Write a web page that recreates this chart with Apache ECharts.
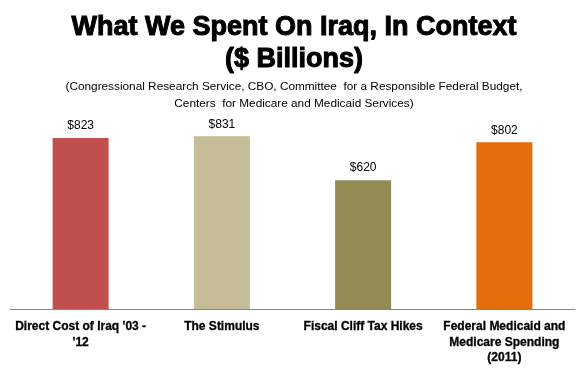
<!DOCTYPE html>
<html>
<head>
<meta charset="utf-8">
<script src="https://cdn.jsdelivr.net/npm/echarts@6/dist/echarts.min.js"></script>
<style>
html,body{margin:0;padding:0;background:#fff;}
#chart{width:588px;height:369px;}
</style>
</head>
<body>
<div id="chart"></div>
<script>
const categories = ["Direct Cost of Iraq '03 -\n'12", "The Stimulus", "Fiscal Cliff Tax Hikes", "Federal Medicaid and\nMedicare Spending\n(2011)"];
const values = [823, 831, 620, 802];
const barColors = ["#C0504D", "#C4BD97", "#948A54", "#E46C0A"];
const titleText = "What We Spent On Iraq, In Context\n($ Billions)";
const subtitleText = "(Congressional Research Service, CBO, Committee  for a Responsible Federal Budget,\nCenters  for Medicare and Medicaid Services)";

const chart = echarts.init(document.getElementById('chart'), null, {renderer: 'canvas'});
chart.setOption({
  backgroundColor: '#fff',
  animation: false,
  title: [{
    text: titleText,
    left: 'center',
    top: 7,
    textStyle: {
      fontFamily: 'Liberation Sans',
      fontWeight: 'bold',
      fontSize: 27,
      lineHeight: 32,
      color: '#000',
      textBorderColor: '#000',
      textBorderWidth: 1
    }
  }, {
    text: subtitleText,
    left: 'center',
    top: 73,
    textStyle: {
      fontFamily: 'Liberation Sans',
      fontWeight: 'normal',
      fontSize: 11.8,
      lineHeight: 17,
      color: '#000'
    }
  }],
  grid: {left: 10, right: 13, top: 122, bottom: 60, containLabel: false},
  xAxis: {
    type: 'category',
    data: categories,
    axisLine: {lineStyle: {color: '#868686', width: 1}},
    axisTick: {show: false},
    axisLabel: {
      interval: 0,
      margin: 10,
      fontFamily: 'Liberation Sans',
      fontWeight: 'bold',
      fontSize: 12,
      lineHeight: 15.5,
      color: '#000',
      textBorderColor: '#000',
      textBorderWidth: 0.3
    }
  },
  yAxis: {
    type: 'value',
    min: 0,
    max: 900,
    show: false,
    splitLine: {show: false}
  },
  series: [{
    type: 'bar',
    barWidth: 56,
    data: values.map((v, i) => ({value: v, itemStyle: {color: barColors[i]}})),
    label: {
      show: true,
      position: 'top',
      distance: 6,
      formatter: p => '$' + p.value,
      fontFamily: 'Liberation Sans',
      fontSize: 12,
      color: '#000'
    }
  }]
});
</script>
</body>
</html>
